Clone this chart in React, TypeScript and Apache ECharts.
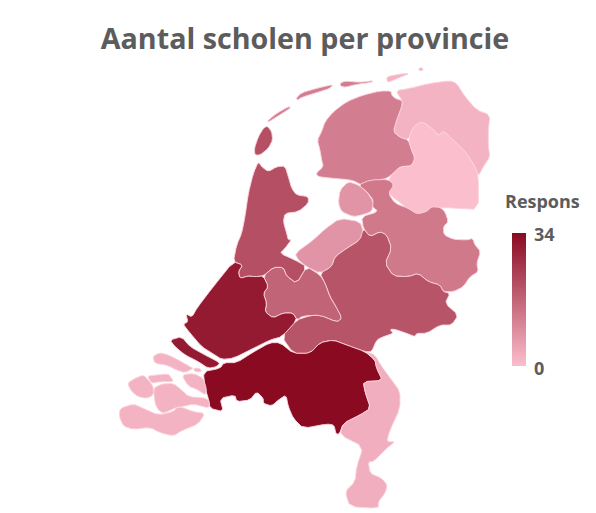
import React, { useEffect, useRef } from "react";
import * as echarts from "echarts";

const titleText = "Aantal scholen per provincie";
const legendTitle = "Respons";
const provinces = ["Groningen","Friesland","Drenthe","Overijssel","Flevoland","Gelderland","Utrecht","Noord-Holland","Zuid-Holland","Noord-Brabant","Limburg","Zeeland"];
const responses = [2, 12, 0, 13, 8, 20, 17, 21, 31, 34, 3, 2];
const scaleMin = 0;
const scaleMax = 34;
const lowColor = "#fbbecd";
const highColor = "#890a21";

// Outlines, traced in zoomed crops: [cropX, cropY, ...points at 3x]
type Crop = number[];
const outlines: Record<string, Crop[]> = {
  "Groningen": [
    [230,60, 517,122,497,92,540,85,600,70,660,62,680,70,705,110,740,150,780,165,775,210,775,260,780,290,760,320,745,348,735,320,710,280,680,250,640,212,628,228,600,200,575,185,550,200,535,240,510,232,490,215,500,180,515,140],
    [230,60, 470,50,510,42,540,40,510,52,480,65,472,66],
    [230,60, 565,27,575,22,580,30,570,33],
  ],
  "Friesland": [
    [230,60, 483,93,450,93,400,105,350,125,310,155,285,185,275,215,262,240,270,270,275,300,280,320,258,340,265,350,290,353,310,355,345,358,370,362,395,375,420,375,440,362,470,355,490,340,510,320,545,318,555,295,545,270,535,240,510,232,490,215,500,180,515,140,517,122,495,115,485,105],
    [230,60, 112,183,140,160,175,140,183,143,160,158,125,180,115,186],
    [230,60, 198,115,215,98,260,85,310,73,300,85,260,98,215,112,203,120],
    [230,60, 330,70,345,63,390,67,430,62,425,67,380,73,345,82,332,78],
  ],
  "Drenthe": [
    [230,60, 535,240,550,200,575,185,600,200,628,228,640,212,680,250,710,280,735,320,745,348,745,448,680,445,650,443,600,445,590,460,545,462,525,440,500,420,475,400,490,375,475,355,510,320,545,318,555,295,545,270],
  ],
  "Overijssel": [
    [320,170, 115,45,150,30,205,28,222,45,205,70,225,100,265,115,290,132,320,125,335,110,360,112,375,125,385,155,370,170,372,195,400,208,440,210,458,205,465,225,482,245,470,280,475,305,450,320,430,350,400,365,370,365,360,345,325,335,295,310,265,320,220,318,195,280,215,235,200,195,180,185,150,200,130,175,125,140,175,125,155,108,160,90,140,65],
  ],
  "Flevoland": [
    [320,170, 85,35,115,45,140,65,160,95,155,125,125,135,100,140,65,125,55,100,60,60],
    [320,170, 60,145,120,155,130,185,120,210,80,235,45,260,35,290,0,310,-40,290,-65,270,-75,250,-20,210,15,177],
  ],
  "Gelderland": [
    [320,170, 130,175,150,200,180,185,200,195,215,235,195,280,220,318,265,320,295,310,325,335,360,345,370,365,390,370,375,400,415,435,395,465,360,465,320,490,290,490,285,500,260,490,225,478,210,478,220,490,190,500,170,510,155,545,135,545,80,525,40,510,0,518,-30,550,-80,550,-115,500,-70,450,-30,437,0,435,50,455,65,445,45,405,30,380,15,340,0,310,35,290,45,260,80,235,120,210],
  ],
  "Utrecht": [
    [170,150, 450,375,465,399,480,441,495,465,516,504,501,516,450,495,399,498,381,510,369,489,339,489,309,504,285,486,290,460,280,430,295,410,280,378,310,352,340,352,350,378,380,400,410,350],
  ],
  "Noord-Holland": [
    [170,150, 265,35,275,50,295,65,320,50,345,48,355,80,365,115,380,135,415,140,415,160,385,185,345,190,340,215,350,250,355,270,365,268,345,295,330,310,375,330,410,350,380,400,350,378,340,352,310,352,280,378,255,380,235,378,210,385,205,365,218,345,190,335,200,285,215,250,225,200,235,130,250,70],
    [230,60, 112,198,125,215,128,240,115,265,90,285,75,285,73,265,85,230,100,205],
  ],
  "Zuid-Holland": [
    [170,150, 190,335,218,345,205,365,210,385,235,378,255,380,280,378,295,410,280,430,290,460,285,485,309,504,339,489,369,489,381,510,336,560,300,570,250,595,190,625,155,628,130,612,95,590,60,549,39,522,54,516,48,492,66,501,81,474,129,411],
    [110,300, 180,120,215,110,240,140,285,165,330,188,320,200,295,205,265,185,225,165,195,140],
  ],
  "Noord-Brabant": [
    [200,320, 10,155,60,145,72,128,110,128,160,96,210,68,240,68,280,100,330,100,360,68,400,60,440,75,495,95,525,120,530,145,548,182,490,185,495,215,512,265,480,285,430,310,418,342,408,342,402,315,380,312,310,325,280,295,265,260,258,225,235,240,215,258,190,250,190,235,170,215,150,240,110,245,105,225,60,235,70,275,30,265,25,235,15,205],
  ],
  "Limburg": [
    [200,320, 497,95,525,105,545,140,575,180,600,215,600,265,570,330,560,365,585,365,560,385,520,425,505,425,510,460,545,475,562,495,555,520,535,545,535,565,450,560,435,515,465,485,470,440,490,380,420,345,430,310,480,285,512,265,495,215,490,185,548,182,530,145,525,120],
  ],
  "Zeeland": [
    [110,300, 30,325,70,312,100,325,145,345,190,335,205,318,250,335,285,340,265,372,215,392,190,408,150,398,120,382,70,388,40,378,28,350],
    [110,300, 52,250,75,235,100,225,115,240,130,260,130,285,110,295,85,290,65,275],
    [110,300, 130,265,155,252,190,250,215,270,235,290,295,295,300,325,250,312,215,320,200,322,160,340,145,330,135,310],
    [110,300, 112,228,140,225,175,222,185,235,190,245,150,245,125,250],
    [110,300, 215,225,250,220,280,235,290,270,285,285,265,270,235,258],
    [110,300, 128,170,150,158,175,165,205,180,240,200,250,205,225,218,200,210,170,195,135,190],
    [110,300, 250,205,270,205,275,215,255,215],
  ],
};

// Rounds the traced corners so the coast is less angular (one corner-cutting pass).
function toRing(c: Crop): number[][] {
  const raw: number[][] = [];
  for (let i = 2; i < c.length; i += 2) raw.push([c[0] + c[i] / 3, -(c[1] + c[i + 1] / 3)]);
  const ring: number[][] = [];
  raw.forEach((p, i) => {
    const q = raw[(i + 1) % raw.length];
    ring.push([p[0] * 0.8 + q[0] * 0.2, p[1] * 0.8 + q[1] * 0.2]);
    ring.push([p[0] * 0.2 + q[0] * 0.8, p[1] * 0.2 + q[1] * 0.8]);
  });
  ring.push(ring[0]);
  return ring;
}

function buildGeo() {
  let minX = Infinity, maxX = -Infinity, minY = Infinity, maxY = -Infinity;
  const features = provinces.map((name) => {
    const rings = outlines[name].map(toRing);
    rings.forEach((r) => r.forEach(([x, y]) => {
      minX = Math.min(minX, x); maxX = Math.max(maxX, x);
      minY = Math.min(minY, -y); maxY = Math.max(maxY, -y);
    }));
    return {
      type: "Feature",
      properties: { name },
      geometry: { type: "MultiPolygon", coordinates: rings.map((r) => [r]) },
    };
  });
  return { geo: { type: "FeatureCollection", features }, box: { minX, maxX, minY, maxY } };
}

export default function App() {
  const ref = useRef<HTMLDivElement>(null);
  useEffect(() => {
    const chart = echarts.init(ref.current!, undefined, { renderer: "svg" });
    const { geo, box } = buildGeo();
    echarts.registerMap("nl", geo as any);
    const font = '"Open Sans", sans-serif';
    chart.setOption({
      animation: false,
      backgroundColor: "#ffffff",
      title: {
        text: titleText,
        left: 300,
        top: 18,
        textAlign: "center",
        textStyle: { fontFamily: font, fontSize: 28.7, fontWeight: 700, color: "#5c5c5c" },
      },
      visualMap: {
        show: false,
        type: "continuous",
        min: scaleMin,
        max: scaleMax,
        inRange: { color: [lowColor, highColor] },
      },
      graphic: [
        { type: "rect", shape: { x: 512, y: 233, width: 14, height: 133 },
          style: { fill: new echarts.graphic.LinearGradient(0, 0, 0, 1, [
            { offset: 0, color: highColor }, { offset: 1, color: lowColor } ]) } },
        { type: "text", x: 505, y: 192, style: { text: legendTitle, font: `700 18px ${font}`, fill: "#5c5c5c" } },
        { type: "text", x: 534, y: 225, style: { text: String(scaleMax), font: `700 18px ${font}`, fill: "#5c5c5c" } },
        { type: "text", x: 534, y: 359, style: { text: String(scaleMin), font: `700 18px ${font}`, fill: "#5c5c5c" } },
      ],
      series: [
        {
          type: "map",
          map: "nl",
          roam: false,
          aspectScale: 1,
          left: box.minX,
          top: box.minY,
          width: box.maxX - box.minX,
          height: box.maxY - box.minY,
          label: { show: false },
          emphasis: { disabled: true },
          select: { disabled: true },
          itemStyle: { borderColor: "#fbd3dc", borderWidth: 0.9 },
          data: provinces.map((name, i) => ({ name, value: responses[i] })),
        },
      ],
    });
    return () => chart.dispose();
  }, []);
  return <div ref={ref} style={{ position: "fixed", left: 0, top: 0, width: 596, height: 513 }} />;
}
